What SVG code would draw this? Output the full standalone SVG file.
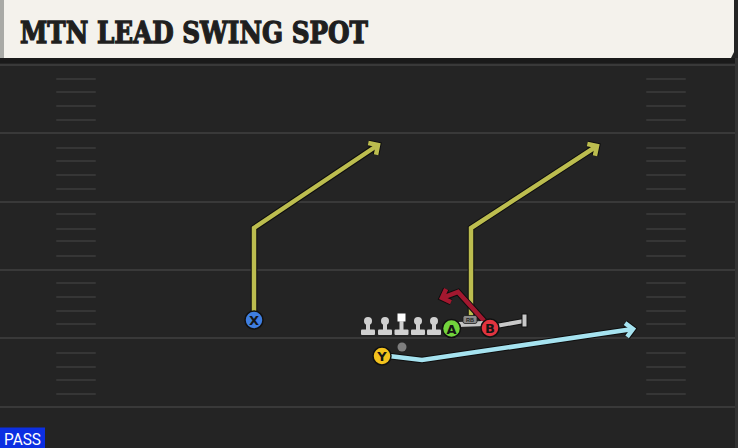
<svg xmlns="http://www.w3.org/2000/svg" width="738" height="448" viewBox="0 0 738 448">
<style>
.yl{stroke:#393939;stroke-width:2}
.hs{stroke:#363636;stroke-width:2;stroke-linecap:round}
.ol{fill:none;stroke:#0e0e0e;stroke-width:6.5;stroke-linejoin:miter;stroke-linecap:butt}
.ln{fill:none;stroke-width:4.5;stroke-linejoin:miter;stroke-linecap:butt}
.pl{stroke:#111;stroke-width:1.5}
.lt{font-family:"DejaVu Sans","Liberation Sans",sans-serif;font-weight:bold;font-size:13px;fill:#151515;text-anchor:middle}
.lm{fill:#d0d0d0}
</style>
<defs>
<marker id="aO" markerUnits="userSpaceOnUse" markerWidth="30" markerHeight="30" refX="15" refY="15" orient="auto" viewBox="0 0 30 30"><path d="M8 8 L15 15 L8 22" fill="none" stroke="#0e0e0e" stroke-width="6.5"/></marker>
<marker id="aY" markerUnits="userSpaceOnUse" markerWidth="30" markerHeight="30" refX="15" refY="15" orient="auto" viewBox="0 0 30 30"><path d="M8 8 L15 15 L8 22" fill="none" stroke="#bcbd4f" stroke-width="4.5"/></marker>
<marker id="aR" markerUnits="userSpaceOnUse" markerWidth="30" markerHeight="30" refX="15" refY="15" orient="auto" viewBox="0 0 30 30"><path d="M8 8 L15 15 L8 22" fill="none" stroke="#a3182f" stroke-width="4.5"/></marker>
<marker id="aB" markerUnits="userSpaceOnUse" markerWidth="30" markerHeight="30" refX="15" refY="15" orient="auto" viewBox="0 0 30 30"><path d="M8 8 L15 15 L8 22" fill="none" stroke="#a6e3f0" stroke-width="4.5"/></marker>
</defs>
<!-- field -->
<rect x="0" y="0" width="738" height="448" fill="#242424"/>
<rect x="0" y="58" width="738" height="5" fill="#1a1a1a"/>
<rect x="735" y="58" width="3" height="390" fill="#333"/>
<g id="field">
<line class="yl" x1="0" y1="65" x2="735" y2="65"/>
<line class="yl" x1="0" y1="133" x2="735" y2="133"/>
<line class="yl" x1="0" y1="202" x2="735" y2="202"/>
<line class="yl" x1="0" y1="270" x2="735" y2="270"/>
<line class="yl" x1="0" y1="338" x2="735" y2="338"/>
<line class="yl" x1="0" y1="407" x2="735" y2="407"/>
<g id="hashL">
<line class="hs" x1="57" y1="79" x2="95" y2="79"/><line class="hs" x1="57" y1="92" x2="95" y2="92"/><line class="hs" x1="57" y1="106" x2="95" y2="106"/><line class="hs" x1="57" y1="120" x2="95" y2="120"/>
<line class="hs" x1="57" y1="148" x2="95" y2="148"/><line class="hs" x1="57" y1="161" x2="95" y2="161"/><line class="hs" x1="57" y1="175" x2="95" y2="175"/><line class="hs" x1="57" y1="189" x2="95" y2="189"/>
<line class="hs" x1="57" y1="214" x2="95" y2="214"/><line class="hs" x1="57" y1="229" x2="95" y2="229"/><line class="hs" x1="57" y1="241" x2="95" y2="241"/><line class="hs" x1="57" y1="256" x2="95" y2="256"/>
<line class="hs" x1="57" y1="283" x2="95" y2="283"/><line class="hs" x1="57" y1="297" x2="95" y2="297"/><line class="hs" x1="57" y1="311" x2="95" y2="311"/><line class="hs" x1="57" y1="324" x2="95" y2="324"/>
<line class="hs" x1="57" y1="353" x2="95" y2="353"/><line class="hs" x1="57" y1="367" x2="95" y2="367"/><line class="hs" x1="57" y1="380" x2="95" y2="380"/><line class="hs" x1="57" y1="394" x2="95" y2="394"/>
</g>
<use href="#hashL" x="590"/>
</g>
<!-- header -->
<g id="header">
<path d="M0 0 H734 V52 L731 58 H0 Z" fill="#f4f2ec"/>
<rect x="0" y="0" width="4" height="58" fill="#a9aaa6"/>
<text x="20" y="43" font-family="DejaVu Serif,'Liberation Serif',serif" font-weight="bold" font-size="29" fill="#1f1f1f" stroke="#1f1f1f" stroke-width="1.3" textLength="348" lengthAdjust="spacingAndGlyphs">MTN LEAD SWING SPOT</text>
</g>
<!-- connectors -->
<g id="connectors">
<path class="ol" d="M254 312 V228 L378 145" marker-end="url(#aO)"/>
<path class="ln" stroke="#bcbd4f" d="M254 312 V228 L378 145" marker-end="url(#aY)"/>
<path class="ol" d="M471 316 V228 L597 146" marker-end="url(#aO)"/>
<path class="ln" stroke="#bcbd4f" d="M471 316 V228 L597 146" marker-end="url(#aY)"/>
<path class="ol" d="M486 323 L458 292 L442 298" marker-end="url(#aO)"/>
<path class="ln" stroke="#a3182f" d="M486 323 L458 292 L442 298" marker-end="url(#aR)"/>
<path class="ol" d="M389 356 L422 360 L633 329" marker-end="url(#aO)"/>
<path class="ln" stroke="#a6e3f0" d="M389 356 L422 360 L633 329" marker-end="url(#aB)"/>
<g id="block">
<path d="M496 326 L524 321" stroke="#111" stroke-width="6" fill="none"/>
<path d="M496 326 L524 321" stroke="#c8c8c8" stroke-width="4" fill="none"/>
<rect x="522" y="314" width="5" height="13" fill="#c8c8c8" stroke="#111" stroke-width="1"/>
</g>
</g>
<!-- linemen -->
<g id="ol1"><circle class="lm" cx="368" cy="321" r="4"/><rect class="lm" x="366" y="322" width="4" height="8"/><rect class="lm" x="361" y="329.5" width="14" height="5.5" rx="1"/></g>
<g id="ol2"><circle class="lm" cx="385" cy="321" r="4"/><rect class="lm" x="383" y="322" width="4" height="8"/><rect class="lm" x="378" y="329.5" width="14" height="5.5" rx="1"/></g>
<g id="center"><rect x="397.5" y="313.5" width="8" height="8" fill="#ffffff"/><rect class="lm" x="399.5" y="321" width="4" height="9"/><rect class="lm" x="394.5" y="329.5" width="14" height="5.5" rx="1"/></g>
<g id="ol4"><circle class="lm" cx="418" cy="321" r="4"/><rect class="lm" x="416" y="322" width="4" height="8"/><rect class="lm" x="411" y="329.5" width="14" height="5.5" rx="1"/></g>
<g id="ol5"><circle class="lm" cx="434" cy="321" r="4"/><rect class="lm" x="432" y="322" width="4" height="8"/><rect class="lm" x="427" y="329.5" width="14" height="5.5" rx="1"/></g>
<g id="rb">
<path d="M458 322 L484 321 L486 326 L458 327 Z" fill="#c4c4c4"/>
<rect x="463" y="315.5" width="14" height="8" rx="2" fill="#8a8a8a" stroke="#1a1a1a" stroke-width="0.8"/>
<text x="470" y="321.8" font-family="'Liberation Sans',sans-serif" font-size="5.5" font-weight="bold" fill="#222" text-anchor="middle">RB</text>
</g>
<g id="qb"><circle cx="402" cy="347" r="4.5" fill="#7e7e7e"/></g>
<!-- players -->
<g id="X"><circle class="pl" cx="254" cy="320" r="9" fill="#3f7ee0"/><text class="lt" x="254" y="325">X</text></g>
<g id="A"><circle class="pl" cx="451.5" cy="328.5" r="9" fill="#72d43c"/><text class="lt" x="451.5" y="333.5">A</text></g>
<g id="B"><circle class="pl" cx="490" cy="328" r="9" fill="#e2343f"/><text class="lt" x="490" y="333">B</text></g>
<g id="Y"><circle class="pl" cx="382" cy="356" r="9" fill="#f3c21d"/><text class="lt" x="382" y="361">Y</text></g>
<!-- tag -->
<g id="pass">
<rect x="0" y="427.5" width="45" height="20.5" fill="#0c2fe2"/>
<text x="4" y="444.5" font-family="Roboto,'Liberation Sans',sans-serif" font-size="16" fill="#ffffff" textLength="37" lengthAdjust="spacingAndGlyphs">PASS</text>
</g>
</svg>
